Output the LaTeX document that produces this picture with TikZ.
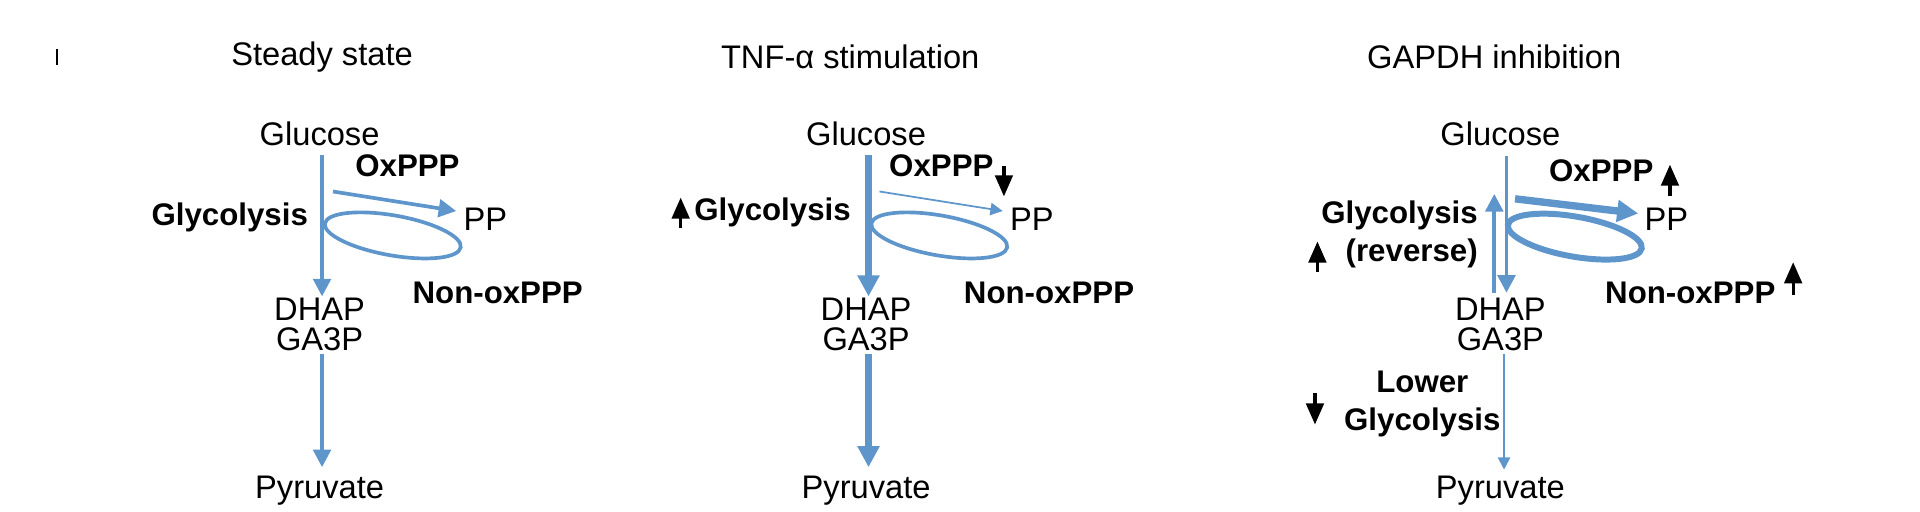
\documentclass[tikz,border=0pt]{standalone}
\usepackage{fontspec}
\setmainfont{Liberation Sans}
\usepackage{tikz}
\usetikzlibrary{arrows.meta}
\definecolor{bleuvoie}{RGB}{94,150,204}
\tikzstyle{txt}=[inner sep=0, font=\fontsize{9.3}{10.6}\selectfont]
\tikzstyle{gras}=[txt, font=\fontsize{8.9}{10.8}\selectfont\bfseries]
\tikzstyle{flux}=[bleuvoie, line width=1.05pt, -{Triangle[length=5pt,width=5pt]}]
\tikzstyle{gros}=[bleuvoie, line width=2.1pt, -{Triangle[length=6pt,width=6pt]}]
\tikzstyle{fin}=[bleuvoie, line width=0.5pt, -{Triangle[length=3.5pt,width=3.5pt]}]
\tikzstyle{boucle}=[bleuvoie, line width=1.05pt]
\tikzstyle{fleche}=[black, line width=0.9pt, -{Triangle[length=6pt,width=5pt]}]
% texts common to every panel
\newcommand{\base}[4]{
  \begin{scope}[shift={(#1,0)}]
  \node[txt] (#2t) at (#4,47) {#3};
  \node[txt] (#2g) at (262,110) {Glucose};
  \node[txt, align=center] (#2d) at (262,266) {DHAP\\[-2pt]GA3P};
  \node[txt] (#2y) at (262,402) {Pyruvate};
  \node[txt] (#2p) at (398,180) {PP};
  \coordinate (#2a) at (264,127);
  \coordinate (#2b) at (264,243);
  \coordinate (#2c) at (264,290);
  \coordinate (#2e) at (264,383);
  \coordinate (#2o) at (273,157);
  \coordinate (#2q) at (374,173);
  \end{scope}
}
\begin{document}
\begin{tikzpicture}[x=0.0122cm,y=-0.0122cm]
\useasboundingbox (0,0) rectangle (1574,419);
\draw[line width=0.5pt] (47,40) -- (47,53);

%steady state
\base{0}{s}{Steady state}{264}
\node[gras] (sox) at (334,136) {OxPPP};
\node[gras, anchor=east] (sgl) at (253,178) {Glycolysis};
\node[gras] (snon) at (408,240) {Non-oxPPP};
\draw[flux] (sa) -- (sb);
\draw[flux] (sc) -- (se);
\draw[flux] (so) -- (sq);
\draw[boucle] (322,193) ellipse [x radius=0.69cm, y radius=0.2cm, rotate=-10];

%TNF
\base{448}{t}{TNF-α stimulation}{249}
\node[gras, anchor=east] (tox) at (815,136) {OxPPP};
\node[gras, anchor=east] (tgl) at (698,174) {Glycolysis};
\node[gras] (tnon) at (860,240) {Non-oxPPP};
\draw[fleche] (823,136) -- (823,161);
\draw[fleche] (558,187) -- (558,162);
\draw[gros] (ta) -- (tb);
\draw[gros] (tc) -- (te);
\draw[fin] (to) -- (tq);
\draw[boucle] (770,193) ellipse [x radius=0.69cm, y radius=0.2cm, rotate=-10];

%GAPDH
\base{968}{g}{GAPDH inhibition}{257}
\node[gras, anchor=east] (gox) at (1356,140) {OxPPP};
\node[gras, anchor=east, align=right] (ggl) at (1212,192) {Glycolysis\\(reverse)};
\node[gras, anchor=east] (gnon) at (1456,240) {Non-oxPPP};
\node[gras, align=center] (glow) at (1166,331) {Lower\\Glycolysis};
\draw[fleche] (1369,161) -- (1369,135);
\draw[fleche] (1470,242) -- (1470,215);
\draw[fleche] (1080,223) -- (1080,198);
\draw[fleche] (1078,322) -- (1078,348);
\coordinate (gr1) at (1225,240);
\coordinate (gr2) at (1225,159);
\draw[flux] (gr1) -- (gr2);
\draw[flux] (1235,128) -- (1235,240);
\draw[fin] (1233,290) -- (1233,385);
\draw[gros] (1242,163) -- (1343,175);
\draw[boucle, line width=1.7pt] (1291,194) ellipse [x radius=0.68cm, y radius=0.2cm, rotate=-10];
\end{tikzpicture}
\end{document}
